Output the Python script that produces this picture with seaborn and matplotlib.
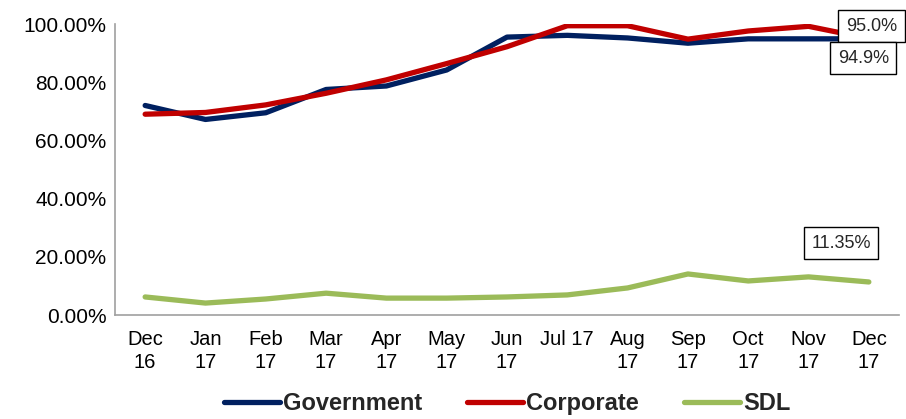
import matplotlib
matplotlib.use("Agg")
import matplotlib.pyplot as plt
import seaborn as sns
import pandas as pd
from matplotlib.ticker import FuncFormatter, FixedLocator

months = ["Dec\n16", "Jan\n17", "Feb\n17", "Mar\n17", "Apr\n17", "May\n17", "Jun\n17",
          "Jul 17", "Aug\n17", "Sep\n17", "Oct\n17", "Nov\n17", "Dec\n17"]
government = [72.0, 67.2, 69.5, 77.5, 78.7, 84.2, 95.5, 96.1, 95.2, 93.4, 94.9, 94.9, 94.9]
corporate = [69.0, 69.6, 72.2, 76.2, 80.8, 86.4, 92.2, 99.4, 99.4, 94.8, 97.6, 99.2, 95.0]
sdl = [6.2, 4.1, 5.5, 7.5, 5.8, 5.8, 6.2, 6.9, 9.3, 14.1, 11.7, 13.1, 11.35]

series_names = ["Government", "Corporate", "SDL"]
colors = ["#002060", "#C00000", "#9BBB59"]

sns.set_style("white")
plt.rcParams["font.family"] = ["Liberation Sans", "DejaVu Sans"]

rows = []
for name, vals in zip(series_names, [government, corporate, sdl]):
    for i, v in enumerate(vals):
        rows.append({"idx": i, "value": v, "series": name})
df = pd.DataFrame(rows)

fig = plt.figure(figsize=(9.06, 4.19), dpi=100)
ax = fig.add_axes([115 / 906, 104 / 419, 784 / 906, 291 / 419])

sns.lineplot(data=df, x="idx", y="value", hue="series", hue_order=series_names,
             palette=colors, linewidth=3.8, ax=ax, legend=False)

ax.set_xlim(-0.5, len(months) - 0.5)
ax.set_ylim(0, 100)
ax.set_xlabel("")
ax.set_ylabel("")

ax.set_xticks(range(len(months)))
ax.set_xticklabels(months, fontsize=14.5, linespacing=1.25)
ax.xaxis.set_minor_locator(FixedLocator([i - 0.5 for i in range(len(months) + 1)]))
ax.tick_params(axis="x", which="minor", length=5, color="#A0A0A0", width=1, direction="out")
ax.set_yticks([0, 20, 40, 60, 80, 100])
ax.yaxis.set_major_formatter(FuncFormatter(lambda v, p: f"{v:.2f}%"))
ax.tick_params(axis="y", labelsize=15, length=3.6, color="#A0A0A0", width=1, direction="out", pad=2.5)
ax.tick_params(axis="both", colors="#A0A0A0", labelcolor="black")
ax.tick_params(axis="x", which="major", length=0, pad=11)

for s in ["top", "right"]:
    ax.spines[s].set_visible(False)
for s in ["left", "bottom"]:
    ax.spines[s].set_color("#A0A0A0")
    ax.spines[s].set_linewidth(1.2)

box = dict(boxstyle="square,pad=0.42", facecolor="white", edgecolor="black", linewidth=1)
last = len(months) - 1
ax.annotate(f"{corporate[-1]:.1f}%", xy=(last, corporate[-1]), xytext=(2, 9),
            textcoords="offset points", fontsize=13, ha="center", va="center", bbox=box)
ax.annotate(f"{government[-1]:.1f}%", xy=(last, government[-1]), xytext=(-4, -14),
            textcoords="offset points", fontsize=13, ha="center", va="center", bbox=box)
ax.annotate(f"{sdl[-1]:.2f}%", xy=(last, sdl[-1]), xytext=(-20, 28),
            textcoords="offset points", fontsize=13, ha="center", va="center", bbox=box)

handles = [plt.Line2D([], [], color=c, linewidth=3.8) for c in colors]
fig.legend(handles, series_names, loc="center", bbox_to_anchor=(0.56, 0.036), ncol=3,
           frameon=False, prop={"weight": "bold", "size": 17}, handlelength=2.35,
           handletextpad=0.15, columnspacing=1.9)

fig.savefig("out.png", dpi=100)
